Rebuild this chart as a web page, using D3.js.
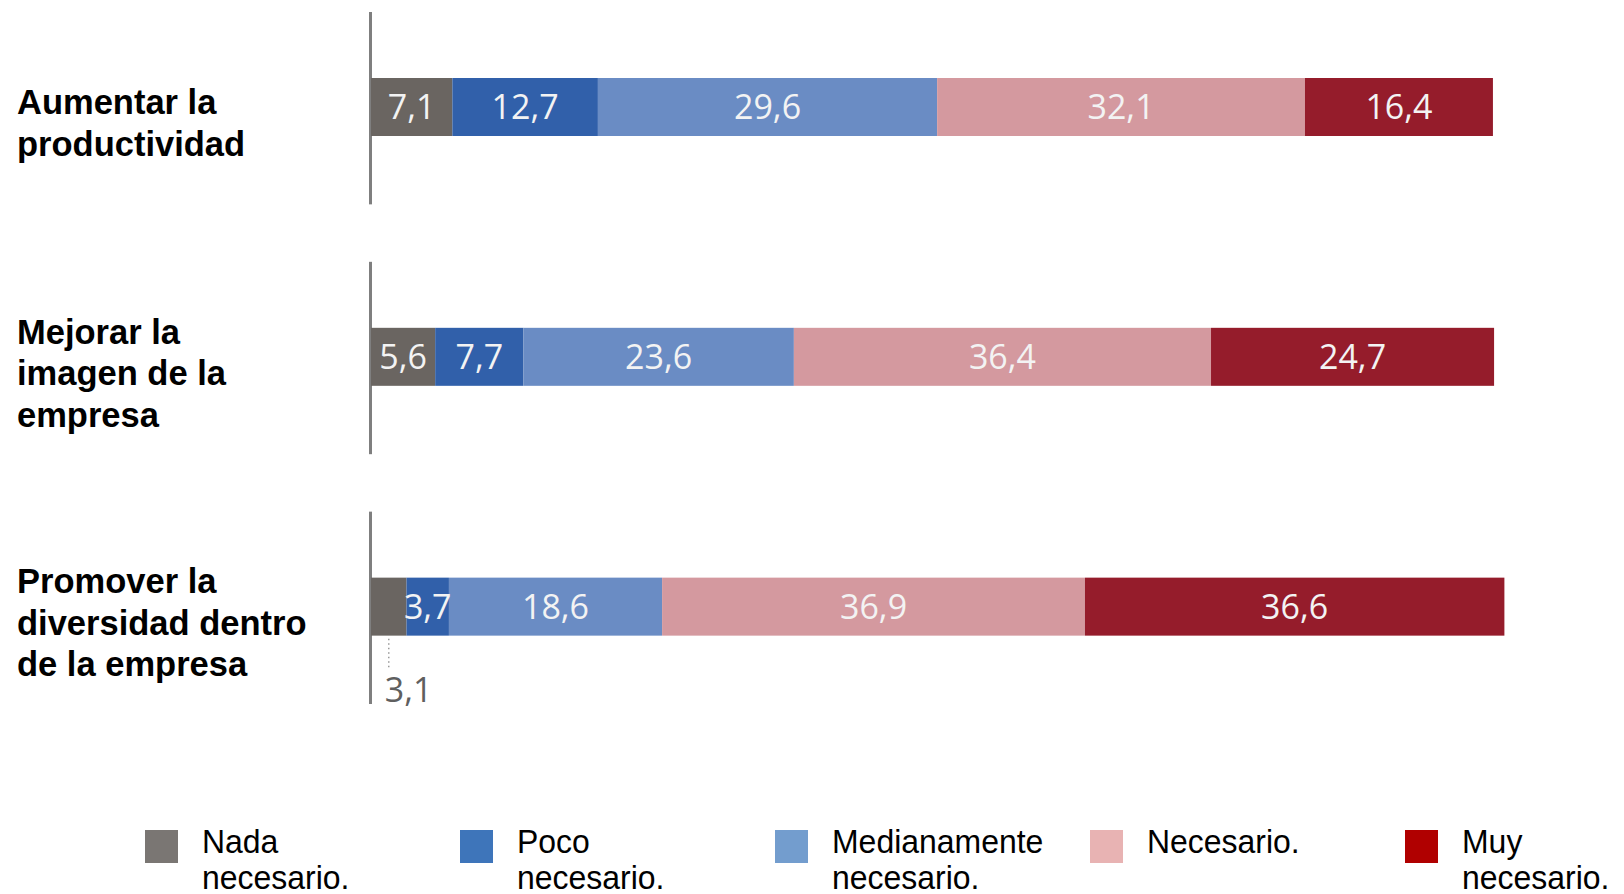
<!DOCTYPE html>
<html lang="es">
<head>
<meta charset="utf-8">
<script src="https://cdn.jsdelivr.net/npm/d3@7"></script>
<style>
  html, body { margin: 0; padding: 0; background: #ffffff; }
  svg { display: block; }
</style>
</head>
<body>
<svg id="chart" width="1624" height="894"></svg>
<script>
// Categories (rows) and the text lines each row label is broken into
const categories = [
  "Aumentar la productividad",
  "Mejorar la imagen de la empresa",
  "Promover la diversidad dentro de la empresa"
];
const categoryLines = [
  ["Aumentar la", "productividad"],
  ["Mejorar la", "imagen de la", "empresa"],
  ["Promover la", "diversidad dentro", "de la empresa"]
];

// Response levels and their legend text lines
const seriesNames = ["Nada necesario.", "Poco necesario.", "Medianamente necesario.", "Necesario.", "Muy necesario."];
const legendLines = [
  ["Nada", "necesario."],
  ["Poco", "necesario."],
  ["Medianamente", "necesario."],
  ["Necesario."],
  ["Muy", "necesario."]
];

// Percentages per row, one array per response level
const nadaNecesario         = [7.1, 5.6, 3.1];
const pocoNecesario         = [12.7, 7.7, 3.7];
const medianamenteNecesario = [29.6, 23.6, 18.6];
const necesario             = [32.1, 36.4, 36.9];
const muyNecesario          = [16.4, 24.7, 36.6];

const seriesValues = [nadaNecesario, pocoNecesario, medianamenteNecesario, necesario, muyNecesario];

// Styling
const barColors    = ["#6a6561", "#3160aa", "#6a8cc4", "#d4999f", "#951c2b"];
const legendColors = ["#7a7673", "#3e75ba", "#739dce", "#e8b3b3", "#b00000"];

const fmt = d3.formatLocale({ decimal: ",", thousands: ".", grouping: [3], currency: ["", " €"] }).format(".1f");

const svg = d3.select("#chart");

// Build a table keyed by series name for d3.stack
const rows = categories.map((c, i) => {
  const r = { category: c };
  seriesNames.forEach((s, j) => { r[s] = seriesValues[j][i]; });
  return r;
});
const stacked = d3.stack().keys(seriesNames)(rows);

const x = d3.scaleLinear().domain([0, 100]).range([371, 1517]);
const y = d3.scaleBand().domain(categories).range([12, 704]).paddingInner(0.23).paddingOuter(0);

const barOffset = 66;
const barHeight = 58;

// Vertical baseline segment for each row
svg.append("g").selectAll("line")
  .data(categories)
  .join("line")
  .attr("x1", x(0) - 0.5).attr("x2", x(0) - 0.5)
  .attr("y1", d => y(d))
  .attr("y2", d => y(d) + y.bandwidth())
  .attr("stroke", "#7f7f7f")
  .attr("stroke-width", 3);

// Stacked segments
const layers = svg.append("g").selectAll("g")
  .data(stacked)
  .join("g")
  .attr("fill", (d, i) => barColors[i]);

layers.selectAll("rect")
  .data(d => d.map(p => ({ p, cat: p.data.category })))
  .join("rect")
  .attr("x", d => x(d.p[0]))
  .attr("width", d => x(d.p[1]) - x(d.p[0]))
  .attr("y", d => y(d.cat) + barOffset)
  .attr("height", barHeight);

// Value labels: inside the segment, or below with a dotted leader when it is too narrow
const labelData = [];
stacked.forEach((layer) => {
  layer.forEach(p => {
    const v = p[1] - p[0];
    labelData.push({ v, cx: (x(p[0]) + x(p[1])) / 2, cat: p.data.category, inside: v >= 3.5 });
  });
});

const labels = svg.append("g")
  .attr("font-family", "'Open Sans', 'Noto Sans', sans-serif")
  .attr("font-size", 34);

labels.selectAll("text.in")
  .data(labelData.filter(d => d.inside))
  .join("text")
  .attr("class", "in")
  .attr("x", d => d.cx)
  .attr("y", d => y(d.cat) + barOffset + barHeight / 2 + 12)
  .attr("text-anchor", "middle")
  .attr("fill", "#f3f3f3")
  .text(d => fmt(d.v));

const outside = labelData.filter(d => !d.inside);
labels.selectAll("line.leader")
  .data(outside)
  .join("line")
  .attr("class", "leader")
  .attr("x1", d => d.cx).attr("x2", d => d.cx)
  .attr("y1", d => y(d.cat) + barOffset + barHeight + 3)
  .attr("y2", d => y(d.cat) + barOffset + barHeight + 34)
  .attr("stroke", "#9a9a9a")
  .attr("stroke-width", 1.5)
  .attr("stroke-dasharray", "1.5,3");

labels.selectAll("text.out")
  .data(outside)
  .join("text")
  .attr("class", "out")
  .attr("x", d => d.cx - 4)
  .attr("y", d => y(d.cat) + barOffset + barHeight + 66)
  .attr("text-anchor", "start")
  .attr("fill", "#5f5f5f")
  .text(d => fmt(d.v));

// Row labels
const lineGap = 41.5;
const catLabels = svg.append("g")
  .attr("font-family", "'Liberation Sans', Arial, sans-serif")
  .attr("font-weight", "bold")
  .attr("font-size", 34.5)
  .attr("fill", "#000");

catLabels.selectAll("text")
  .data(categories)
  .join("text")
  .attr("x", 17)
  .each(function (c, i) {
    const lines = categoryLines[i];
    const mid = y(c) + y.bandwidth() / 2 + 15;
    d3.select(this).selectAll("tspan")
      .data(lines)
      .join("tspan")
      .attr("x", 17)
      .attr("y", (l, k) => mid + 12 + (k - (lines.length - 1) / 2) * lineGap)
      .text(l => l);
  });

// Legend
const lx = d3.scalePoint().domain(seriesNames).range([145, 1405]);
const legend = svg.append("g")
  .attr("font-family", "'Liberation Sans', Arial, sans-serif")
  .attr("font-size", 34)
  .attr("fill", "#000");

const items = legend.selectAll("g")
  .data(seriesNames)
  .join("g")
  .attr("transform", d => `translate(${lx(d)},0)`);

items.append("rect")
  .attr("x", 0).attr("y", 830)
  .attr("width", 33).attr("height", 33)
  .attr("fill", (d, i) => legendColors[i]);

items.append("text")
  .attr("transform", "translate(57,0) scale(0.94,1)")
  .each(function (s, i) {
    d3.select(this).selectAll("tspan")
      .data(legendLines[i])
      .join("tspan")
      .attr("x", 0)
      .attr("y", (l, k) => 853 + k * 36)
      .text(l => l);
  });
</script>
</body>
</html>
